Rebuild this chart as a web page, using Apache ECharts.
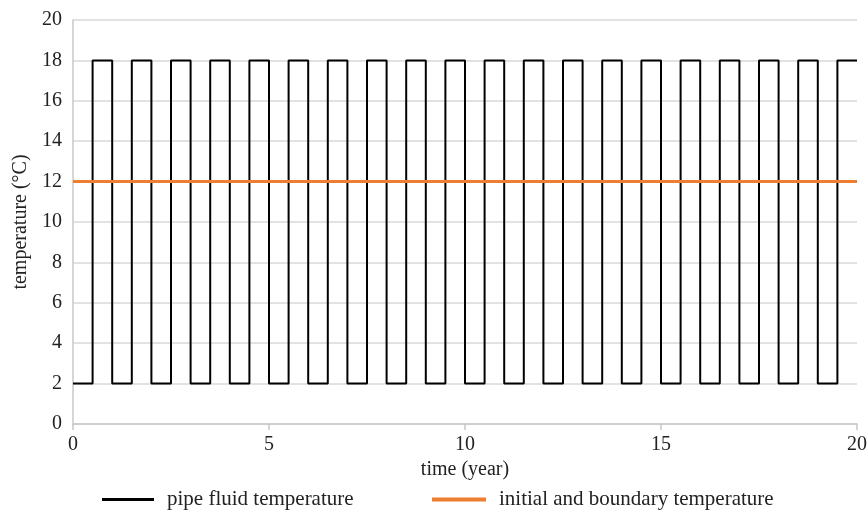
<!DOCTYPE html>
<html><head><meta charset="utf-8">
<script src="https://cdn.jsdelivr.net/npm/echarts@6/dist/echarts.min.js"></script>
<style>html,body{margin:0;padding:0;background:#fff}#c{width:868px;height:513px}</style>
</head><body><div id="c"></div>
<script>
const times = [0,0.5,1,1.5,2,2.5,3,3.5,4,4.5,5,5.5,6,6.5,7,7.5,8,8.5,9,9.5,10,10.5,11,11.5,12,12.5,13,13.5,14,14.5,15,15.5,16,16.5,17,17.5,18,18.5,19,19.5,20];
const pipeTemp = [2,18,2,18,2,18,2,18,2,18,2,18,2,18,2,18,2,18,2,18,2,18,2,18,2,18,2,18,2,18,2,18,2,18,2,18,2,18,2,18,18];
const boundaryTimes = [0,20];
const boundaryTemp = [12,12];
const xTicks = [0,5,10,15,20];
const yTicks = [0,2,4,6,8,10,12,14,16,18,20];
const names = ['pipe fluid temperature','initial and boundary temperature'];

const font = '"Liberation Serif","Times New Roman",serif';
const fs = 20;
const chart = echarts.init(document.getElementById('c'));
const legendText = {color:'#222',fontSize:21,fontFamily:font,padding:[0,0,0,8]};
chart.setOption({
  animation:false,
  textStyle:{fontFamily:font},
  grid:{left:73,right:11,top:20,bottom:89,outerBoundsMode:'none',containLabel:false},
  xAxis:{type:'value',min:xTicks[0],max:xTicks[xTicks.length-1],interval:5,
    name:'time (year)',nameLocation:'middle',nameGap:33,
    nameTextStyle:{color:'#222',fontSize:fs,fontFamily:font},
    axisLine:{show:true,lineStyle:{color:'#c8c8c8',width:1.5}},
    axisTick:{show:true,length:6,lineStyle:{color:'#c8c8c8',width:1.5}},
    axisLabel:{color:'#222',fontSize:fs,fontFamily:font,margin:11},
    splitLine:{show:false}},
  yAxis:{type:'value',min:yTicks[0],max:yTicks[yTicks.length-1],interval:2,
    name:'temperature (°C)',nameLocation:'middle',nameGap:41,
    nameTextStyle:{color:'#222',fontSize:fs,fontFamily:font},
    axisLine:{show:true,lineStyle:{color:'#c8c8c8',width:1.5}},
    axisTick:{show:false},
    axisLabel:{color:'#222',fontSize:fs,fontFamily:font,margin:11},
    splitLine:{show:true,lineStyle:{color:'#d9d9d9',width:1.5}}},
  legend:[
    {top:484,left:97,itemWidth:52,itemHeight:3,icon:'rect',textStyle:legendText,data:[names[0]]},
    {top:484,left:427,itemWidth:54,itemHeight:4,icon:'rect',textStyle:legendText,data:[names[1]]}
  ],
  series:[
    {name:names[0],type:'line',step:'end',symbol:'none',
     data:times.map((t,i)=>[t,pipeTemp[i]]),
     lineStyle:{color:'#000',width:2},itemStyle:{color:'#000'}},
    {name:names[1],type:'line',symbol:'none',
     data:boundaryTimes.map((t,i)=>[t,boundaryTemp[i]]),
     lineStyle:{color:'#ED7D31',width:3},itemStyle:{color:'#ED7D31'}}
  ]
});
</script></body></html>
